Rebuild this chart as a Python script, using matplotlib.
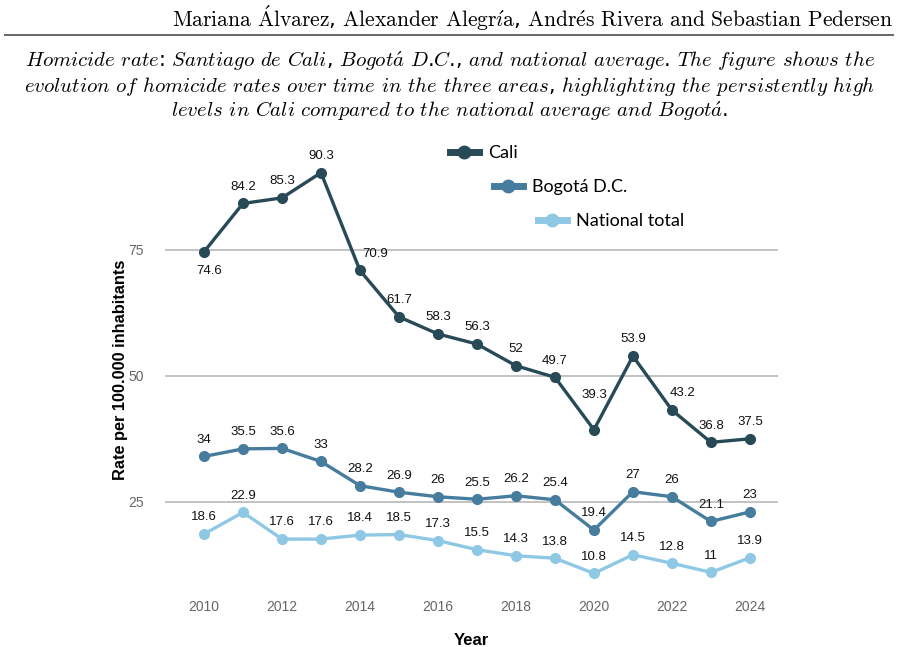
import re
import matplotlib
matplotlib.use("Agg")
import matplotlib.pyplot as plt
from matplotlib.lines import Line2D

plt.rcParams["mathtext.fontset"] = "cm"

years = list(range(2010, 2025))
cali = [74.6, 84.2, 85.3, 90.3, 70.9, 61.7, 58.3, 56.3, 52, 49.7, 39.3, 53.9, 43.2, 36.8, 37.5]
bogota = [34, 35.5, 35.6, 33, 28.2, 26.9, 26, 25.5, 26.2, 25.4, 19.4, 27, 26, 21.1, 23]
national = [18.6, 22.9, 17.6, 17.6, 18.4, 18.5, 17.3, 15.5, 14.3, 13.8, 10.8, 14.5, 12.8, 11, 13.9]
series_names = ["Cali", "Bogotá D.C.", "National total"]
colors = ["#284a57", "#467c9d", "#8fc8e4"]
yticks = [25, 50, 75]
xticks = list(range(2010, 2025, 2))

header = "Mariana Álvarez, Alexander Alegría, Andrés Rivera and Sebastian Pedersen"
caption_lines = [
    "Homicide rate: Santiago de Cali, Bogotá D.C., and national average. The figure shows the",
    "evolution of homicide rates over time in the three areas, highlighting the persistently high",
    "levels in Cali compared to the national average and Bogotá.",
]

ACCENTS = {"Á": r"\acute{A}", "á": r"\acute{a}", "é": r"\acute{e}", "í": r"\acute{\imath}"}


def to_math(s, cmd):
    # words in math font, spaces and punctuation left as plain (cmr10) text
    parts = re.split(r"([A-Za-zÁáéí]+)", s)
    out = []
    for p in parts:
        if re.fullmatch(r"[A-Za-zÁáéí]+", p or "-"):
            for a, b in ACCENTS.items():
                p = p.replace(a, "{" + b + "}")
            out.append("$" + cmd + "{" + p + "}$")
        else:
            out.append(p)
    return "".join(out)


fig = plt.figure(figsize=(9, 6.47), dpi=100)

# header and caption
fig.text(893 / 900, 1 - 27 / 647, to_math(header, r"\mathrm"), ha="right", va="baseline",
         fontsize=15.5)
fig.add_artist(Line2D([5 / 900, 893 / 900], [1 - 35 / 647, 1 - 35 / 647], color="#666666", lw=1.4))
for k, line in enumerate(caption_lines):
    fig.text(0.5, 1 - (67 + 25 * k) / 647, to_math(line, r"\mathit"), ha="center",
             va="baseline", fontsize=14.95)

ax = fig.add_axes([165 / 900, 1 - 590 / 647, (778 - 165) / 900, (590 - 149) / 647])
ax.set_xlim(2009, 2024.72)
ax.set_ylim(7.5, 95)

for vals, name, c in zip([cali, bogota, national], series_names, colors):
    ax.plot(years, vals, color=c, lw=2.4, marker="o", ms=7, label=name, zorder=3)

# data labels (offsets in points)
cali_offsets = {2010: (4, -14), 2014: (11, 12), 2020: (0, 25), 2022: (8, 12)}
label_font = dict(fontsize=9.5, family="Liberation Sans", color="#111111", ha="center")
for x, v in zip(years, cali):
    dx, dy = cali_offsets.get(x, (0, 12))
    ax.annotate(f"{v:g}", (x, v), xytext=(dx, dy), textcoords="offset points",
                va="center", **label_font)
for vals in (bogota, national):
    for x, v in zip(years, vals):
        ax.annotate(f"{v:g}", (x, v), xytext=(0, 12), textcoords="offset points",
                    va="center", **label_font)

ax.set_yticks(yticks)
ax.set_xticks(xticks)
ax.grid(axis="y", color="#bdbdbd", lw=1.3)
ax.set_axisbelow(True)
for s in ax.spines.values():
    s.set_visible(False)
ax.tick_params(axis="both", length=0, labelcolor="#666666", labelsize=10)
ax.tick_params(axis="x", pad=7)
ax.tick_params(axis="y", pad=15)
for t in ax.get_xticklabels() + ax.get_yticklabels():
    t.set_family("Liberation Sans")

ax.set_xlabel("Year", fontsize=12, fontweight="bold", family="Liberation Sans")
ax.xaxis.set_label_coords(0.5, -0.097)
ax.set_ylabel("Rate per 100.000 inhabitants", fontsize=11.8, fontweight="bold",
              family="Liberation Sans")
ax.yaxis.set_label_coords(-0.06, 0.5)

# staggered legend entries
lines = ax.get_lines()
anchors = [(450 / 900, 1 - 153 / 647), (494 / 900, 1 - 187 / 647), (538 / 900, 1 - 221 / 647)]
for ln, name, anc in zip(lines, series_names, anchors):
    h = Line2D([], [], color=ln.get_color(), lw=5, marker="o", ms=9)
    fig.legend([h], [name], loc="center left", bbox_to_anchor=anc, frameon=False,
               handlelength=1.6, handletextpad=0.5, borderpad=0, borderaxespad=0,
               prop={"family": "Lato", "size": 13})

fig.savefig("out.png", dpi=100)
